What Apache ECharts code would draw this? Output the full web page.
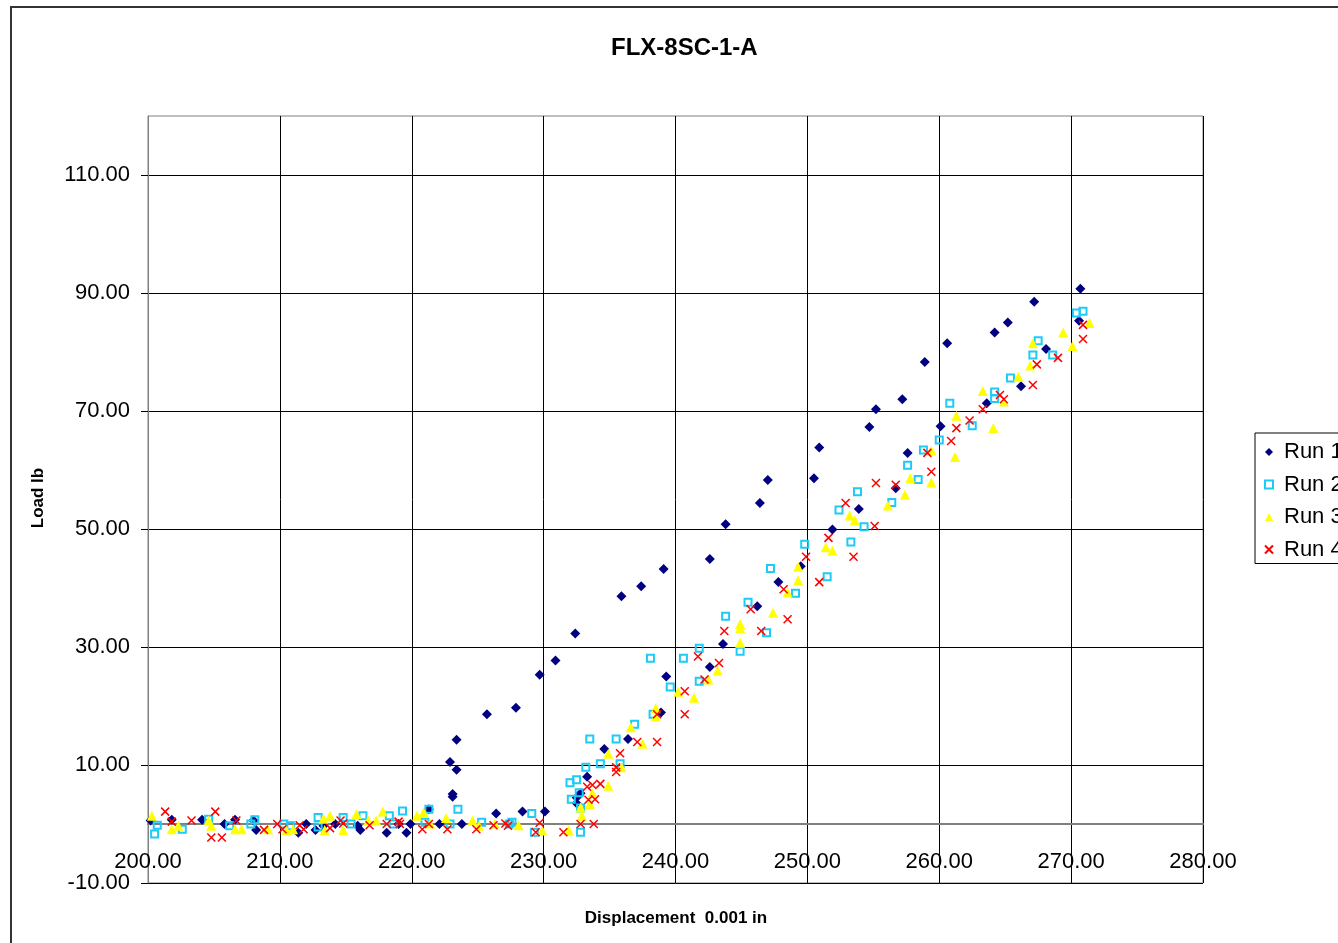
<!DOCTYPE html>
<html>
<head>
<meta charset="utf-8">
<script src="https://cdn.jsdelivr.net/npm/echarts@6/dist/echarts.min.js"></script>
<style>html,body{margin:0;padding:0;background:#fff}#c{width:1338px;height:943px}</style>
</head>
<body>
<div id="c"></div>
<script>
const titleText = 'FLX-8SC-1-A';
const xName = 'Displacement  0.001 in';
const yName = 'Load lb';
const seriesNames = ['Run 1', 'Run 2', 'Run 3', 'Run 4'];
const yTickValues = [-10, 10, 30, 50, 70, 90, 110];

const run1 = [[200.2,0.6],[201.8,0.7],[204.1,0.7],[205.8,0.0],[206.6,0.7],[208.0,0.6],[208.2,-1.0],[211.4,-1.5],[212.0,0.0],[212.7,-1.0],[213.3,-0.3],[214.2,0.0],[215.9,-0.3],[216.1,-1.0],[218.1,-1.5],[219.0,0.0],[219.6,-1.5],[219.9,0.0],[221.3,2.5],[222.1,0.0],[222.9,10.5],[223.1,5.1],[223.1,4.6],[223.4,9.2],[223.4,14.3],[223.8,0.0],[225.7,18.6],[226.4,1.8],[227.9,19.7],[228.4,2.1],[229.7,25.3],[230.1,2.1],[230.9,27.7],[232.4,32.3],[232.5,4.5],[232.5,3.5],[232.8,5.2],[233.3,8.0],[234.6,12.7],[235.9,38.6],[236.4,14.4],[237.4,40.3],[238.9,18.9],[239.1,43.2],[239.3,25.0],[242.6,26.6],[242.6,44.9],[243.6,30.5],[243.8,50.8],[246.2,36.9],[246.4,54.4],[247.0,58.3],[247.8,41.0],[249.5,43.7],[250.5,58.6],[250.9,63.8],[251.9,49.9],[253.9,53.4],[254.7,67.3],[255.2,70.3],[256.7,56.9],[257.2,72.0],[257.6,62.9],[258.9,78.3],[260.1,67.4],[260.6,81.5],[263.6,71.3],[264.2,83.3],[265.2,85.0],[266.2,74.2],[267.2,88.5],[268.1,80.5],[270.6,85.3],[270.7,90.7]];

const run2 = [[200.5,-1.7],[200.7,-0.2],[202.6,-0.9],[204.6,0.8],[206.2,-0.3],[207.8,0.0],[208.1,0.7],[210.3,0.0],[210.8,-0.3],[212.9,1.1],[212.9,-0.5],[214.8,1.1],[215.4,0.0],[216.3,1.4],[218.3,1.4],[218.6,0.0],[219.3,2.2],[221.0,0.3],[221.3,2.5],[222.9,0.0],[223.5,2.5],[225.3,0.3],[227.4,0.0],[227.6,0.3],[229.1,1.8],[229.3,-1.4],[232.0,7.0],[232.1,4.2],[232.5,7.5],[232.7,5.3],[232.8,2.7],[232.8,-1.4],[233.2,9.6],[233.5,14.4],[234.3,10.2],[235.5,14.4],[235.8,10.2],[236.9,16.9],[238.1,28.1],[238.3,18.6],[239.6,23.2],[240.6,28.1],[241.8,29.8],[241.8,24.2],[243.8,35.2],[244.9,29.3],[245.5,37.6],[246.9,32.4],[247.2,43.3],[249.1,39.1],[249.8,47.4],[251.5,41.9],[252.4,53.2],[253.3,47.8],[253.8,56.3],[254.3,50.4],[256.4,54.5],[257.6,60.8],[258.4,58.4],[258.8,63.4],[260.0,65.1],[260.8,71.3],[262.5,67.5],[264.2,73.2],[264.2,72.1],[265.4,75.6],[267.1,79.5],[267.5,81.9],[268.6,79.5],[270.4,86.6],[270.9,86.9]];

const run3 = [[200.3,1.4],[201.8,-0.9],[202.3,-0.3],[204.6,0.6],[204.8,-0.3],[206.6,-0.9],[207.1,-0.9],[209.1,-0.9],[210.5,-1.0],[211.0,-0.9],[213.3,0.9],[213.4,-1.0],[213.8,1.4],[214.8,-1.0],[215.8,1.7],[216.7,0.6],[217.3,0.6],[217.8,2.1],[220.4,1.4],[220.9,2.0],[221.4,0.1],[222.6,1.0],[224.6,0.6],[225.1,-0.3],[226.3,0.1],[228.1,-0.2],[229.9,-1.1],[231.9,-1.1],[232.8,2.8],[232.9,1.4],[233.5,3.4],[233.7,5.2],[234.9,6.5],[234.9,11.9],[235.9,9.6],[236.6,16.4],[237.5,13.6],[238.5,19.6],[238.5,18.2],[240.2,22.4],[241.4,21.4],[242.5,24.5],[243.2,26.0],[244.9,33.9],[244.9,33.2],[244.9,30.7],[247.4,35.8],[248.5,39.3],[249.3,43.6],[249.3,41.3],[251.4,46.9],[251.9,46.3],[253.2,52.3],[253.6,51.5],[256.1,54.0],[257.4,55.8],[257.8,58.6],[259.4,63.3],[259.4,57.9],[261.2,62.2],[261.3,69.2],[263.3,73.4],[264.1,67.1],[264.9,71.6],[266.0,75.8],[266.9,77.7],[267.1,81.5],[269.4,83.3],[270.1,81.0],[271.4,84.9]];

const run4 = [[201.3,2.1],[201.8,0.4],[203.3,0.6],[204.8,-2.3],[205.1,2.1],[205.6,-2.3],[206.7,0.6],[208.8,-1.0],[209.8,0.0],[210.2,-0.9],[211.5,-0.2],[211.8,-0.9],[213.8,-0.7],[214.6,0.6],[214.8,0.1],[216.8,-0.2],[218.1,0.0],[219.0,0.4],[219.1,0.0],[220.8,-0.9],[221.3,0.0],[222.7,-0.9],[224.9,-0.9],[226.2,-0.2],[227.1,0.1],[227.3,-0.3],[229.4,-1.4],[229.7,0.2],[231.5,-1.4],[232.8,0.0],[233.3,6.3],[233.4,4.1],[233.7,6.6],[233.8,0.0],[233.9,4.2],[234.3,6.8],[235.5,9.6],[235.5,8.8],[235.8,12.0],[237.1,13.9],[238.6,18.6],[238.6,13.9],[240.7,22.5],[240.7,18.6],[241.7,28.4],[242.2,24.5],[243.3,27.3],[243.7,32.7],[245.7,36.4],[246.5,32.7],[248.2,39.8],[248.5,34.7],[249.9,45.3],[250.9,41.0],[251.6,48.5],[252.9,54.4],[253.5,45.3],[255.1,50.5],[255.2,57.8],[256.7,57.5],[259.1,62.9],[259.4,59.7],[260.9,64.9],[261.3,67.1],[262.3,68.4],[263.3,70.3],[264.6,72.7],[264.9,72.0],[267.1,74.4],[267.4,77.9],[269.0,79.0],[270.9,84.6],[270.9,82.2]];

const FONT = '"Liberation Sans", Arial, sans-serif';
const xPath = 'path://M0,0L10,10M10,0L0,10';

const chart = echarts.init(document.getElementById('c'), null, {renderer: 'canvas'});
chart.setOption({
  animation: false,
  backgroundColor: '#fff',
  title: {
    text: titleText, left: 606, top: 31,
    textStyle: {fontFamily: FONT, fontSize: 24, fontWeight: 'bold', color: '#000'}
  },
  legend: {
    orient: 'vertical', left: 1255, top: 433,
    padding: [8, 40, 3, 9], itemGap: 10.5,
    itemWidth: 8, itemHeight: 8,
    borderColor: '#000', borderWidth: 1, backgroundColor: '#fff',
    textStyle: {fontFamily: FONT, fontSize: 22, color: '#000', padding: [0, 0, 0, 6]},
    data: seriesNames
  },
  grid: {
    left: 148, top: 116, width: 1055, height: 767,
    show: true, borderColor: '#808080', borderWidth: 1
  },
  xAxis: {
    type: 'value', min: 200, max: 280, interval: 10,
    axisLine: {show: true, onZero: true, lineStyle: {color: '#808080', width: 2}},
    axisTick: {show: false},
    splitLine: {show: true, lineStyle: {color: '#000', width: 1}},
    axisLabel: {
      margin: -32, fontFamily: FONT, fontSize: 22, color: '#000',
      showMinLabel: true, showMaxLabel: true,
      formatter: v => v.toFixed(2)
    }
  },
  yAxis: {
    type: 'value', min: -10, max: 120,
    axisLine: {show: true, onZero: false, lineStyle: {color: '#808080', width: 1}},
    axisTick: {show: true, inside: false, length: 7, customValues: yTickValues, lineStyle: {color: '#000'}},
    splitLine: {show: true, lineStyle: {color: '#000', width: 1}},
    axisLabel: {
      customValues: yTickValues,
      margin: 18, fontFamily: FONT, fontSize: 22, color: '#000',
      formatter: v => v.toFixed(2)
    }
  },
  graphic: [
    {type: 'rect', shape: {x: 11, y: 7, width: 1400, height: 1000}, style: {fill: 'none', stroke: '#333', lineWidth: 2}, silent: true, z: -1},
    {type: 'text', x: 676, y: 918, style: {text: xName, font: 'bold 17px ' + FONT, fill: '#000', textAlign: 'center', textVerticalAlign: 'middle'}},
    {type: 'text', x: 38, y: 498, rotation: Math.PI / 2, style: {text: yName, font: 'bold 17px ' + FONT, fill: '#000', textAlign: 'center', textVerticalAlign: 'middle'}}
  ],
  series: [
    {name: seriesNames[0], type: 'scatter', data: run1, symbol: 'diamond', symbolSize: [10, 10],
     itemStyle: {color: '#000080', opacity: 1}},
    {name: seriesNames[1], type: 'scatter', data: run2, symbol: 'rect', symbolSize: 7,
     itemStyle: {color: 'rgba(255,255,255,0)', borderColor: '#1ECBF5', borderWidth: 2, opacity: 1}},
    {name: seriesNames[2], type: 'scatter', data: run3, symbol: 'triangle', symbolSize: [10, 10],
     itemStyle: {color: '#FFFF00', opacity: 1}},
    {name: seriesNames[3], type: 'scatter', data: run4, symbol: xPath, symbolSize: 8,
     itemStyle: {color: 'rgba(0,0,0,0)', borderColor: '#FF0000', borderWidth: 1.5, opacity: 1}}
  ]
});
</script>
</body>
</html>
